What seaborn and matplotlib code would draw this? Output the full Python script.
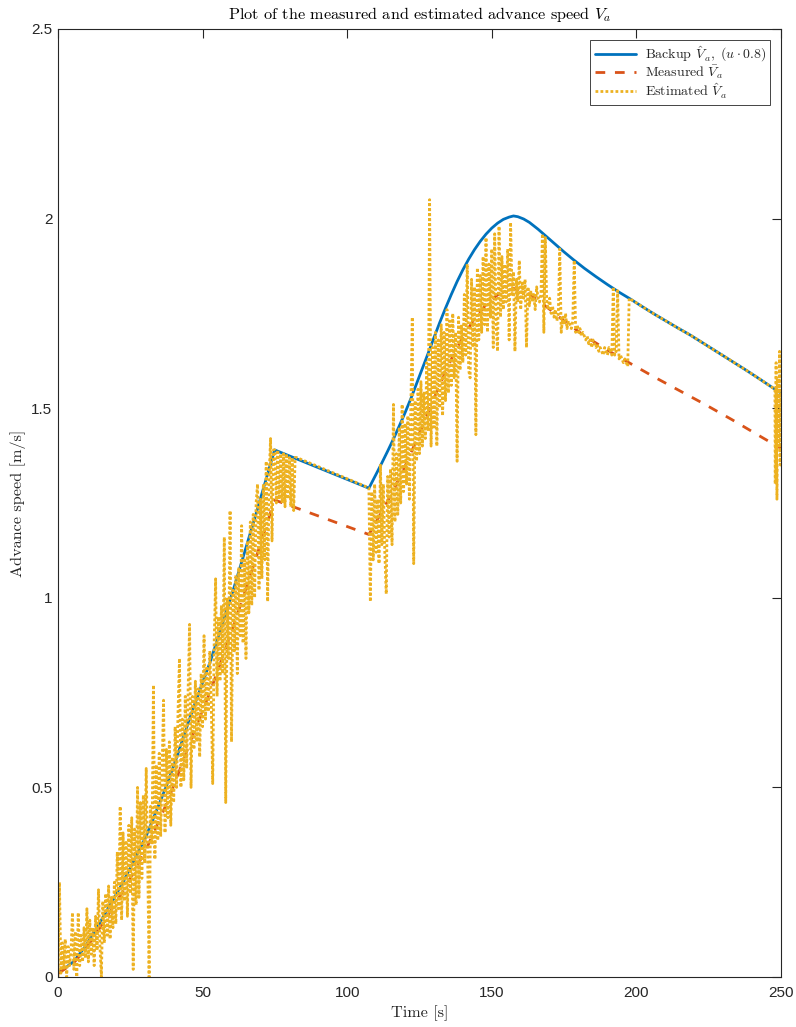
import numpy as np
import pandas as pd
import matplotlib
matplotlib.use("Agg")
import matplotlib.pyplot as plt
import seaborn as sns

# ---------------------------------------------------------------- data
# backup estimate V_a = u * 0.8 [m/s]
backup_t = [0.0, 5.3, 9.4, 15.0, 22.3, 30.4, 37.3, 40.7, 46.5, 52.8, 60.9, 68.0,
            74.9, 107.5, 110.0, 112.0, 114.0, 116.0, 118.0, 120.0, 122.0, 124.0,
            126.0, 128.0, 130.0, 132.0, 134.0, 136.0, 138.0, 140.0, 142.0, 144.0,
            146.0, 148.0, 150.0, 152.0, 154.0, 156.0, 157.5, 159.0, 161.0, 163.0,
            166.0, 169.0, 172.0, 175.0, 178.0, 182.0, 186.0, 190.0, 194.0, 197.9,
            202.0, 206.0, 210.0, 214.0, 218.6, 223.0, 228.0, 233.0, 238.0, 243.0,
            247.9, 250.0]
backup_v = [0.010, 0.040, 0.080, 0.150, 0.247, 0.370, 0.500, 0.572, 0.703, 0.835,
            1.028, 1.209, 1.390, 1.289, 1.326, 1.356, 1.387, 1.419, 1.453, 1.488,
            1.525, 1.565, 1.605, 1.645, 1.686, 1.726, 1.764, 1.800, 1.834, 1.865,
            1.893, 1.918, 1.940, 1.959, 1.975, 1.988, 1.998, 2.004, 2.007, 2.005,
            1.999, 1.990, 1.972, 1.952, 1.932, 1.912, 1.893, 1.869, 1.847, 1.826,
            1.806, 1.788, 1.768, 1.749, 1.731, 1.713, 1.693, 1.672, 1.648, 1.624,
            1.600, 1.575, 1.550, 1.540]

# measured advance speed [m/s]
measured_t = [0.0, 5.3, 9.4, 15.0, 22.3, 30.4, 37.3, 40.7, 46.5, 52.8, 60.9,
              68.0, 74.9, 107.5, 112.0, 116.0, 120.0, 124.0, 128.0, 132.0,
              136.0, 140.0, 144.0, 148.0, 152.0, 157.5, 163.0, 169.0, 175.0,
              182.0, 190.0, 197.9, 206.0, 214.0, 223.0, 233.0, 243.0, 250.0]
measured_v = [0.009, 0.036, 0.072, 0.136, 0.224, 0.335, 0.453, 0.518, 0.636,
              0.756, 0.930, 1.094, 1.258, 1.167, 1.227, 1.284, 1.347, 1.416,
              1.489, 1.562, 1.629, 1.688, 1.736, 1.773, 1.799, 1.816, 1.801,
              1.767, 1.730, 1.691, 1.653, 1.618, 1.583, 1.550, 1.513, 1.470,
              1.425, 1.394]

# estimated advance speed, sampled every 0.5 s, first run (0 s .. 82.5 s)
est_a_start = 0.0
est_a = [
    0.00, 0.25, 0.01, 0.09, 0.02, 0.10, 0.00, 0.08, 0.03, 0.07,
    0.17, 0.02, 0.12, 0.00, 0.17, 0.03, 0.11, 0.04, 0.13, 0.05,
    0.18, 0.04, 0.15, 0.06, 0.13, 0.03, 0.16, 0.07, 0.23, 0.08,
    0.00, 0.20, 0.09, 0.22, 0.11, 0.24, 0.10, 0.21, 0.13, 0.25,
    0.14, 0.33, 0.18, 0.45, 0.15, 0.38, 0.20, 0.36, 0.16, 0.40,
    0.22, 0.42, 0.02, 0.39, 0.19, 0.50, 0.21, 0.46, 0.26, 0.48,
    0.30, 0.55, 0.32, 0.00, 0.45, 0.35, 0.77, 0.31, 0.56, 0.36,
    0.59, 0.37, 0.55, 0.73, 0.38, 0.60, 0.42, 0.62, 0.40, 0.58,
    0.46, 0.66, 0.50, 0.70, 0.84, 0.50, 0.68, 0.52, 0.74, 0.55,
    0.76, 0.93, 0.50, 0.74, 0.60, 0.78, 0.62, 0.76, 0.58, 0.80,
    0.66, 0.90, 0.68, 0.82, 0.70, 0.86, 0.72, 0.51, 0.88, 1.05,
    0.74, 0.95, 0.78, 0.98, 0.80, 1.16, 0.46, 1.00, 0.84, 1.23,
    0.62, 1.02, 0.86, 1.06, 0.80, 1.08, 0.90, 1.19, 0.88, 1.10,
    0.84, 1.15, 0.96, 1.20, 0.98, 1.22, 1.00, 1.25, 1.30, 1.02,
    1.26, 1.05, 1.30, 1.10, 1.36, 0.99, 1.32, 1.42, 1.15, 1.39,
    1.39, 1.25, 1.39, 1.26, 1.38, 1.25, 1.38, 1.24, 1.38, 1.26,
    1.37, 1.24, 1.37, 1.23, 1.37, 1.37,
]

# estimated advance speed, second run (107.5 s .. 197.5 s)
est_b_start = 107.5
est_b = [
    1.29, 0.99, 1.28, 1.10, 1.30, 1.12, 1.26, 1.09, 1.35, 1.14,
    1.30, 1.12, 1.01, 1.32, 1.16, 1.34, 1.14, 1.51, 1.20, 1.38,
    1.22, 1.45, 1.25, 1.51, 1.28, 1.46, 1.30, 1.48, 1.26, 1.50,
    1.74, 1.09, 1.52, 1.36, 1.55, 1.38, 1.57, 1.40, 1.54, 1.42,
    1.62, 1.44, 2.05, 1.40, 1.66, 1.45, 1.70, 1.40, 1.68, 1.50,
    1.72, 1.48, 1.70, 1.52, 1.76, 1.54, 1.73, 1.56, 1.75, 1.58,
    1.70, 1.36, 1.74, 1.60, 1.72, 1.62, 1.80, 1.64, 1.88, 1.60,
    1.58, 1.84, 1.66, 1.82, 1.43, 1.87, 1.68, 1.85, 1.70, 1.90,
    1.72, 1.95, 1.70, 1.88, 1.74, 1.92, 1.66, 1.96, 1.72, 1.65,
    1.98, 1.74, 1.90, 1.76, 1.88, 1.78, 1.92, 1.68, 1.99, 1.80,
    1.86, 1.65, 1.84, 1.78, 1.89, 1.76, 1.83, 1.79, 1.84, 1.66,
    1.82, 1.77, 1.81, 1.78, 1.80, 1.76, 1.82, 1.79, 1.78, 1.80,
    1.96, 1.70, 1.95, 1.78, 1.76, 1.79, 1.75, 1.77, 1.74, 1.76,
    1.73, 1.75, 1.92, 1.70, 1.74, 1.72, 1.75, 1.71, 1.73, 1.72,
    1.71, 1.73, 1.89, 1.70, 1.72, 1.70, 1.71, 1.69, 1.70, 1.69,
    1.68, 1.69, 1.67, 1.68, 1.66, 1.68, 1.67, 1.66, 1.67, 1.65,
    1.66, 1.65, 1.64, 1.66, 1.65, 1.64, 1.66, 1.65, 1.64, 1.82,
    1.64, 1.65, 1.81, 1.63, 1.64, 1.63, 1.62, 1.63, 1.62, 1.61, 1.79,
]

# estimated advance speed at the end of the run
est_tail_t = [248.0, 248.3, 248.6, 248.9, 249.2, 249.5, 249.8, 250.0]
est_tail_v = [1.30, 1.62, 1.26, 1.58, 1.40, 1.65, 1.35, 1.55]

x_ticks = [0, 50, 100, 150, 200, 250]
x_tick_labels = ["0", "50", "100", "150", "200", "250"]
y_ticks = [0, 0.5, 1, 1.5, 2, 2.5]
y_tick_labels = ["0", "0.5", "1", "1.5", "2", "2.5"]

# ---------------------------------------------------------------- frames
backup_t_arr = np.asarray(backup_t)
backup_v_arr = np.asarray(backup_v)

t_a = est_a_start + 0.5 * np.arange(len(est_a))
t_b = est_b_start + 0.5 * np.arange(len(est_b))
# between the two noisy runs and before the tail the estimate sits on the backup
follow = (backup_t_arr >= 197.9) & (backup_t_arr <= 247.9)

backup_df = pd.DataFrame({"t": backup_t, "v": backup_v})
measured_df = pd.DataFrame({"t": measured_t, "v": measured_v})
estimated_df = pd.DataFrame({
    "t": np.concatenate([t_a, t_b, backup_t_arr[follow], est_tail_t]),
    "v": np.concatenate([est_a, est_b, backup_v_arr[follow], est_tail_v]),
})

# ---------------------------------------------------------------- style
sns.set_style("white")
plt.rcParams["font.family"] = ["Liberation Sans", "DejaVu Sans"]
plt.rcParams["mathtext.fontset"] = "cm"
plt.rcParams["axes.unicode_minus"] = False

BLUE = "#0072BD"
ORANGE = "#D95319"
YELLOW = "#EDB120"
INK = "#262626"
SERIF = "cmr10"

fig = plt.figure(figsize=(7.96, 10.27), dpi=100)
ax = fig.add_axes([58 / 796, 50 / 1027, 723 / 796, 948 / 1027])

sns.lineplot(data=backup_df, x="t", y="v", ax=ax, color=BLUE, lw=2.0,
             sort=False, estimator=None,
             label=r"Backup $\hat{V}_a,\ (u \cdot 0.8)$")
sns.lineplot(data=measured_df, x="t", y="v", ax=ax, color=ORANGE, lw=2.0,
             linestyle=(0, (3.5, 3.5)), sort=False, estimator=None,
             label=r"Measured $\bar{V}_a$")
sns.lineplot(data=estimated_df, x="t", y="v", ax=ax, color=YELLOW, lw=2.0,
             linestyle=(0, (1.0, 0.8)), sort=False, estimator=None,
             label=r"Estimated $\hat{V}_a$")

ax.set_xlim(0, 250)
ax.set_ylim(0, 2.5)
ax.set_xticks(x_ticks)
ax.set_xticklabels(x_tick_labels)
ax.set_yticks(y_ticks)
ax.set_yticklabels(y_tick_labels)

for side in ["left", "right", "top", "bottom"]:
    ax.spines[side].set_visible(True)
    ax.spines[side].set_color(INK)
    ax.spines[side].set_linewidth(0.8)

ax.tick_params(axis="both", which="major", direction="in", length=6.5,
               width=0.8, color=INK, labelcolor=INK, labelsize=11,
               top=True, right=True)
ax.tick_params(axis="x", pad=6.5)
ax.tick_params(axis="y", pad=4)

ax.set_title(r"Plot of the measured and estimated advance speed $V_a$",
             fontfamily=SERIF, fontsize=11.7, color="black", pad=7)
ax.set_xlabel("Time [s]", fontfamily=SERIF, fontsize=11.7, color=INK,
              labelpad=4)
ax.set_ylabel("Advance speed [m/s]", fontfamily=SERIF, fontsize=11.7,
              color=INK, labelpad=4)

leg = ax.legend(loc="upper right", prop={"family": SERIF, "size": 10},
                frameon=True, fancybox=False, framealpha=1, edgecolor=INK,
                handlelength=3.0, borderpad=0.3, labelspacing=0.0,
                handletextpad=0.6, borderaxespad=0.8)
leg.get_frame().set_linewidth(0.6)

fig.savefig("out.png", dpi=100)
